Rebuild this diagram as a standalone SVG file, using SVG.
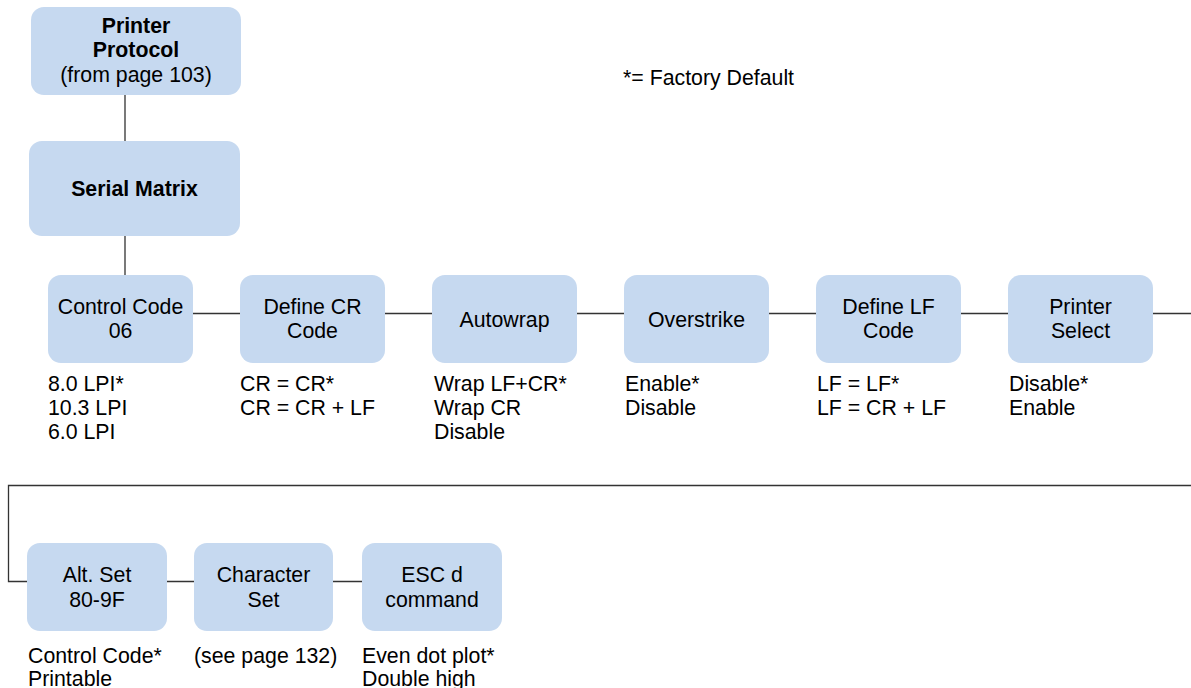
<svg xmlns="http://www.w3.org/2000/svg" width="1191" height="688" viewBox="0 0 1191 688">
<style>
.box{fill:#c6d9f0;}
.t{font-family:"Liberation Sans",Arial,sans-serif;font-size:21.3px;fill:#000;}
.c{text-anchor:middle;}
.b{font-weight:bold;}
.ln{stroke:#333;stroke-width:1.3;fill:none;}
</style>
<rect width="1191" height="688" fill="#fff"/>
<g id="connectors">
<path class="ln" d="M125,95 V141 M125,236 V276"/>
<path class="ln" d="M193,313.5 H240 M385,313.5 H432 M577,313.5 H624 M769,313.5 H816 M961,313.5 H1008 M1153,313.5 H1191"/>
<path class="ln" d="M1191,485.5 H8.5 V581.5 H27 M167,581.5 H194 M333,581.5 H362"/>
</g>
<g id="legend"><text class="t" x="623" y="85">*= Factory Default</text></g>
<g id="printer-protocol">
<rect class="box" x="31" y="7" width="210" height="88" rx="13"/>
<text class="t c b" x="136" y="33">Printer</text>
<text class="t c b" x="136" y="57">Protocol</text>
<text class="t c" x="136" y="82">(from page 103)</text>
</g>
<g id="serial-matrix">
<rect class="box" x="29" y="141" width="211" height="95" rx="13"/>
<text class="t c b" x="134.5" y="196">Serial Matrix</text>
</g>
<g id="control-code">
<rect class="box" x="48" y="275" width="145" height="88" rx="13"/>
<text class="t c" x="120.5" y="314">Control Code</text>
<text class="t c" x="120.5" y="338">06</text>
<text class="t" x="48" y="391">8.0 LPI*</text>
<text class="t" x="48" y="415">10.3 LPI</text>
<text class="t" x="48" y="439">6.0 LPI</text>
</g>
<g id="define-cr">
<rect class="box" x="240" y="275" width="145" height="88" rx="13"/>
<text class="t c" x="312.5" y="314">Define CR</text>
<text class="t c" x="312.5" y="338">Code</text>
<text class="t" x="240" y="391">CR = CR*</text>
<text class="t" x="240" y="415">CR = CR + LF</text>
</g>
<g id="autowrap">
<rect class="box" x="432" y="275" width="145" height="88" rx="13"/>
<text class="t c" x="504.5" y="327">Autowrap</text>
<text class="t" x="434" y="391">Wrap LF+CR*</text>
<text class="t" x="434" y="415">Wrap CR</text>
<text class="t" x="434" y="439">Disable</text>
</g>
<g id="overstrike">
<rect class="box" x="624" y="275" width="145" height="88" rx="13"/>
<text class="t c" x="696.5" y="327">Overstrike</text>
<text class="t" x="625" y="391">Enable*</text>
<text class="t" x="625" y="415">Disable</text>
</g>
<g id="define-lf">
<rect class="box" x="816" y="275" width="145" height="88" rx="13"/>
<text class="t c" x="888.5" y="314">Define LF</text>
<text class="t c" x="888.5" y="338">Code</text>
<text class="t" x="817" y="391">LF = LF*</text>
<text class="t" x="817" y="415">LF = CR + LF</text>
</g>
<g id="printer-select">
<rect class="box" x="1008" y="275" width="145" height="88" rx="13"/>
<text class="t c" x="1080.5" y="314">Printer</text>
<text class="t c" x="1080.5" y="338">Select</text>
<text class="t" x="1009" y="391">Disable*</text>
<text class="t" x="1009" y="415">Enable</text>
</g>
<g id="alt-set">
<rect class="box" x="27" y="543" width="140" height="88" rx="13"/>
<text class="t c" x="97" y="582">Alt. Set</text>
<text class="t c" x="97" y="607">80-9F</text>
<text class="t" x="28" y="663">Control Code*</text>
<text class="t" x="28" y="686">Printable</text>
</g>
<g id="character-set">
<rect class="box" x="194" y="543" width="139" height="88" rx="13"/>
<text class="t c" x="263.5" y="582">Character</text>
<text class="t c" x="263.5" y="607">Set</text>
<text class="t" x="194" y="663">(see page 132)</text>
</g>
<g id="esc-d">
<rect class="box" x="362" y="543" width="140" height="88" rx="13"/>
<text class="t c" x="432" y="582">ESC d</text>
<text class="t c" x="432" y="607">command</text>
<text class="t" x="362" y="663">Even dot plot*</text>
<text class="t" x="362" y="686">Double high</text>
</g>
</svg>
